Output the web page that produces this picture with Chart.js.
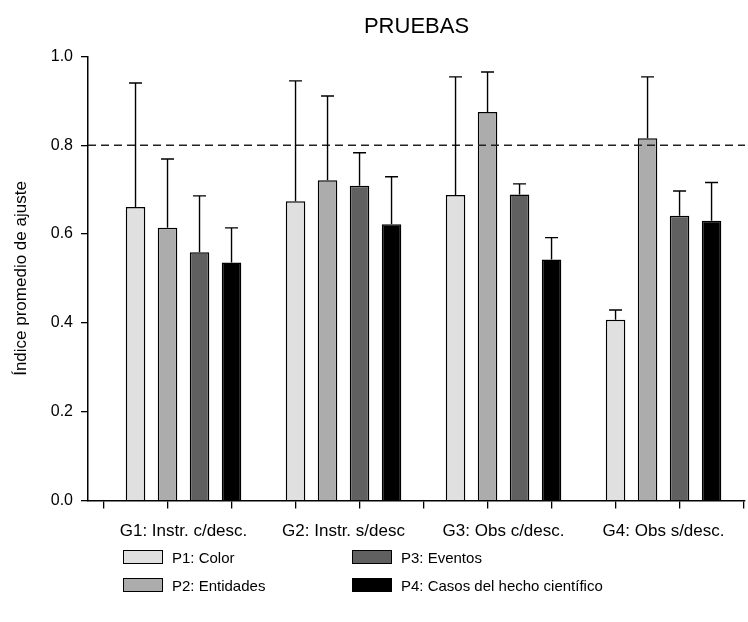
<!DOCTYPE html>
<html>
<head>
<meta charset="utf-8">
<title>PRUEBAS</title>
<script src="https://cdn.jsdelivr.net/npm/chart.js@4/dist/chart.umd.min.js"></script>
<style>
  body { margin: 0; background: #fff; }
  #wrap { position: relative; width: 748px; height: 622px; }
  #legend {
    position: absolute; left: 123px; top: 543px;
    display: grid; grid-auto-flow: column;
    grid-template-rows: 28px 28px; grid-template-columns: 229px auto;
    font: 15px 'Liberation Sans', Arial, sans-serif; color: #000;
  }
  #legend div { display: flex; align-items: center; }
  #legend span.box {
    display: inline-block; width: 38px; height: 12px;
    border: 1.5px solid #000; margin-right: 9px;
  }
</style>
</head>
<body>
<div id="wrap">
  <canvas id="chart"></canvas>
  <div id="legend"></div>
</div>
<script>
// groups on the x axis
var groups = ['G1: Instr. c/desc.', 'G2: Instr. s/desc', 'G3: Obs c/desc.', 'G4: Obs s/desc.'];
var seriesNames = ['P1: Color', 'P2: Entidades', 'P3: Eventos', 'P4: Casos del hecho científico'];

// mean index per group
var p1 = [0.661, 0.674, 0.688, 0.407];
var p2 = [0.614, 0.721, 0.875, 0.816];
var p3 = [0.559, 0.709, 0.689, 0.641];
var p4 = [0.536, 0.622, 0.543, 0.630];

// upper error (sd) per group
var p1Err = [0.279, 0.271, 0.266, 0.022];
var p2Err = [0.155, 0.190, 0.090, 0.138];
var p3Err = [0.127, 0.074, 0.024, 0.056];
var p4Err = [0.078, 0.107, 0.049, 0.086];

var refLine = 0.8;
var yTicks = [0, 0.2, 0.4, 0.6, 0.8, 1.0];
var xTickMarks = [-0.5, -0.1, 0.3, 0.7, 1.1, 1.5, 1.9, 2.3, 2.7, 3.1, 3.5];

var xMin = -0.597, xMax = 3.509;
var FONT = "'Liberation Sans', Arial, sans-serif";
var colors = ['#e0e0e0', '#acacac', '#606060', '#000000'];
var values = [p1, p2, p3, p4];
var errors = [p1Err, p2Err, p3Err, p4Err];

var errorBars = {
  id: 'errorBars',
  afterDatasetsDraw: function(chart) {
    var ctx = chart.ctx;
    var y = chart.scales.y;
    ctx.save();
    ctx.strokeStyle = '#000';
    ctx.lineWidth = 1.4;
    chart.data.datasets.forEach(function(ds, i) {
      if (!ds.errors) return;
      chart.getDatasetMeta(i).data.forEach(function(bar, j) {
        var top = y.getPixelForValue(ds.data[j].y + ds.errors[j]);
        ctx.beginPath();
        ctx.moveTo(bar.x, bar.y);
        ctx.lineTo(bar.x, top);
        ctx.moveTo(bar.x - 6.5, top);
        ctx.lineTo(bar.x + 6.5, top);
        ctx.stroke();
      });
    });
    ctx.restore();
  }
};

var datasets = values.map(function(vals, i) {
  return {
    type: 'bar',
    label: seriesNames[i],
    data: vals.map(function(v, j) { return {x: j, y: v}; }),
    errors: errors[i],
    backgroundColor: colors[i],
    borderColor: '#000',
    borderWidth: 1.5,
    categoryPercentage: 0.8,
    barPercentage: 0.61,
    order: 1
  };
});
datasets.push({
  type: 'line',
  label: 'ref',
  data: [{x: xMin, y: refLine}, {x: xMax, y: refLine}],
  borderColor: '#222',
  borderWidth: 1.3,
  borderDash: [8, 5],
  pointRadius: 0,
  order: 0
});

var chart = new Chart(document.getElementById('chart'), {
  data: { datasets: datasets },
  options: {
    responsive: true,
    maintainAspectRatio: false,
    animation: false,
    layout: { padding: { left: 0, right: 3, top: 0, bottom: 75 } },
    plugins: {
      legend: { display: false },
      tooltip: { enabled: false },
      title: {
        display: true, text: 'PRUEBAS', fullSize: false,
        color: '#000', font: { family: FONT, size: 22, weight: 'normal' },
        padding: { top: 14, bottom: 16 }
      }
    },
    scales: {
      x: {
        type: 'linear', min: xMin, max: xMax, position: 'bottom', weight: 1, offset: false,
        afterBuildTicks: function(s) { s.ticks = groups.map(function(g, i) { return {value: i}; }); },
        ticks: {
          autoSkip: false, maxRotation: 0, padding: 5, color: '#000',
          font: { family: FONT, size: 17 },
          callback: function(v) { return groups[v]; }
        },
        grid: { display: false, offset: false },
        border: { display: false }
      },
      xt: {
        type: 'linear', min: xMin, max: xMax, position: 'bottom', weight: 0, offset: false,
        afterBuildTicks: function(s) { s.ticks = xTickMarks.map(function(v) { return {value: v}; }); },
        ticks: { display: false },
        grid: { drawOnChartArea: false, tickLength: 8, color: '#000', lineWidth: 1.3 },
        border: { color: '#000', width: 1.5 }
      },
      y: {
        min: 0, max: 1,
        afterBuildTicks: function(s) { s.ticks = yTicks.map(function(v) { return {value: v}; }); },
        afterFit: function(s) { s.width = 88; },
        ticks: {
          padding: 8, color: '#000', font: { family: FONT, size: 16 },
          callback: function(v) { return v.toFixed(1); }
        },
        grid: { drawOnChartArea: false, tickLength: 7, color: '#000', lineWidth: 1.3 },
        border: { color: '#000', width: 1.5 },
        title: {
          display: true, text: 'Índice promedio de ajuste', color: '#000',
          font: { family: FONT, size: 17 }, padding: { top: 11, bottom: 11 }
        }
      }
    }
  },
  plugins: [errorBars]
});

// legend: two columns like the original
var legend = document.getElementById('legend');
seriesNames.forEach(function(name, i) {
  var item = document.createElement('div');
  var box = document.createElement('span');
  box.className = 'box';
  box.style.background = colors[i];
  item.appendChild(box);
  item.appendChild(document.createTextNode(name));
  legend.appendChild(item);
});
</script>
</body>
</html>
